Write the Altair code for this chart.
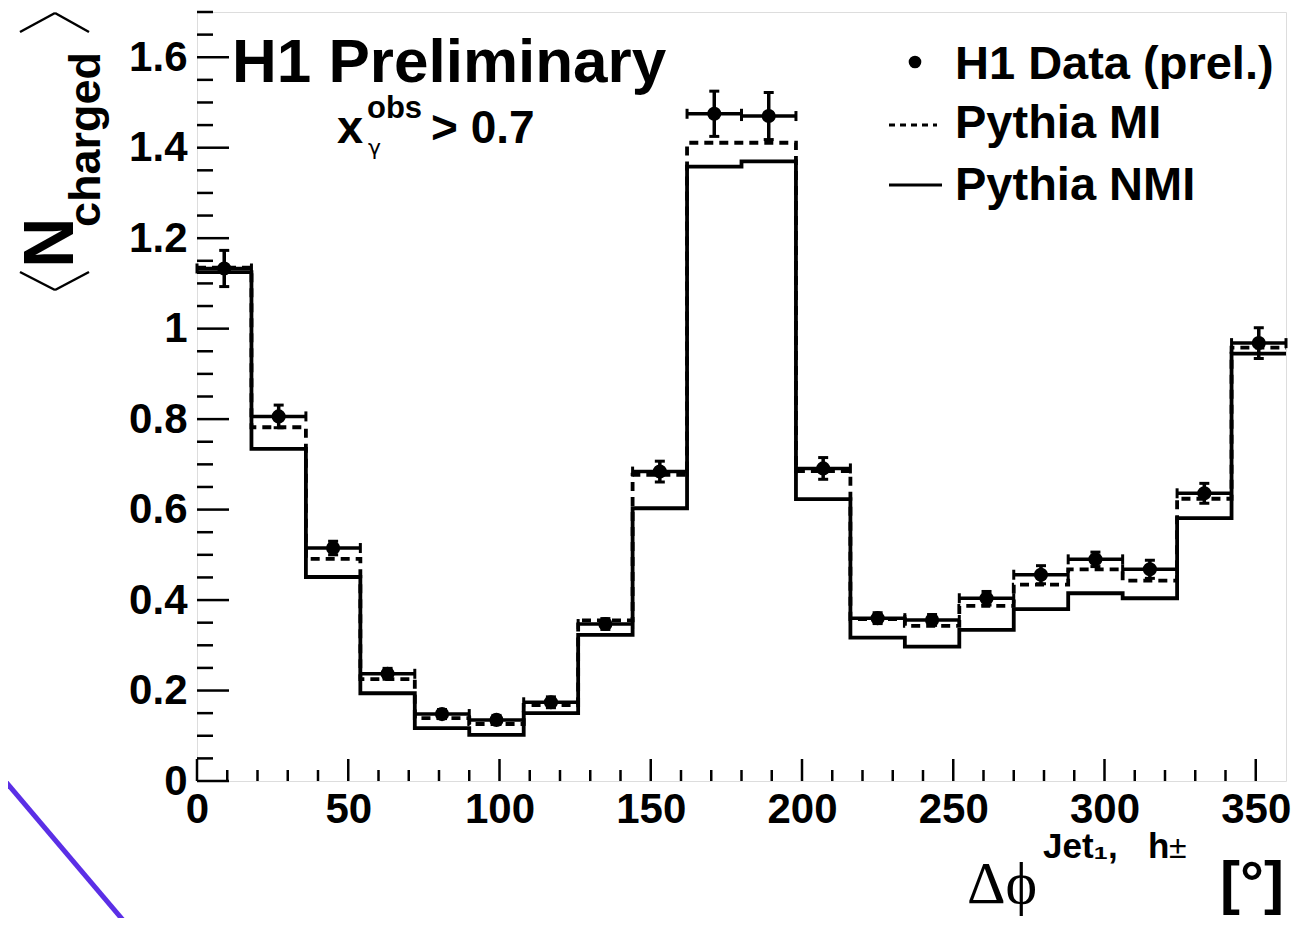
import altair as alt
import pandas as pd

# ---------------- data ----------------
bin_lo = [0, 18, 36, 54, 72, 90, 108, 126, 144, 162, 180, 198, 216, 234, 252, 270, 288, 306, 324, 342]
bin_width = 18
x_end = 360

data_vals = [1.133, 0.806, 0.515, 0.237, 0.148, 0.135, 0.174, 0.347, 0.684, 1.475,
             1.470, 0.691, 0.360, 0.356, 0.404, 0.456, 0.490, 0.468, 0.636, 0.968]
data_err = [0.040, 0.025, 0.015, 0.012, 0.010, 0.010, 0.012, 0.012, 0.023, 0.050,
            0.052, 0.024, 0.012, 0.012, 0.015, 0.020, 0.016, 0.020, 0.022, 0.034]
mi_vals = [1.135, 0.782, 0.491, 0.225, 0.139, 0.126, 0.168, 0.355, 0.677, 1.411,
           1.411, 0.685, 0.358, 0.343, 0.387, 0.434, 0.468, 0.443, 0.624, 0.958]
nmi_vals = [1.125, 0.734, 0.451, 0.194, 0.117, 0.102, 0.150, 0.323, 0.603, 1.358,
            1.370, 0.623, 0.317, 0.297, 0.334, 0.380, 0.415, 0.404, 0.581, 0.945]

x_major = [0, 50, 100, 150, 200, 250, 300, 350]
x_minor = [v for v in range(10, 360, 10) if v % 50 != 0]
y_major = [0, 0.2, 0.4, 0.6, 0.8, 1, 1.2, 1.4, 1.6]
y_minor = [round(0.05 * i, 2) for i in range(1, 35) if i % 4 != 0]

# ---------------- tables ----------------
pts = pd.DataFrame({
    "lo": bin_lo,
    "hi": [b + bin_width for b in bin_lo],
    "c": [b + bin_width / 2 for b in bin_lo],
    "v": data_vals,
    "elo": [v - e for v, e in zip(data_vals, data_err)],
    "ehi": [v + e for v, e in zip(data_vals, data_err)],
})
mi_step = pd.DataFrame({"x": bin_lo + [x_end], "y": mi_vals + [mi_vals[-1]]})
nmi_step = pd.DataFrame({"x": bin_lo + [x_end], "y": nmi_vals + [nmi_vals[-1]]})
one = pd.DataFrame({"a": [0]})

W, H = 1089, 769
FONT = "Liberation Sans"

xscale = alt.Scale(domain=[0, 360], nice=False, zero=False)
yscale = alt.Scale(domain=[0, 1.7], nice=False, zero=False)
xaxis = alt.Axis(values=x_major, format="d", ticks=False, tickSize=0, domain=False, grid=False,
                 labelFont=FONT, labelFontWeight="bold", labelFontSize=42, labelColor="black",
                 labelPadding=8, labelFlush=False, labelOverlap=False)
yaxis = alt.Axis(values=y_major, format="~g", ticks=False, tickSize=0, domain=False, grid=False,
                 labelFont=FONT, labelFontWeight="bold", labelFontSize=42, labelColor="black",
                 labelPadding=10, labelOverlap=False)


def X(f):
    return alt.X(f, type="quantitative", scale=xscale, axis=xaxis, title="")


def Y(f):
    return alt.Y(f, type="quantitative", scale=yscale, axis=yaxis, title="")


nmi = alt.Chart(nmi_step).mark_line(interpolate="step-after", color="black", strokeWidth=3.8).encode(
    x=X("x"), y=Y("y"))
mi = alt.Chart(mi_step).mark_line(interpolate="step-after", color="black", strokeWidth=3.8,
                                  strokeDash=[9, 6]).encode(x=X("x"), y=Y("y"))

herr = alt.Chart(pts).mark_rule(color="black", strokeWidth=3.5).encode(x=X("lo"), x2="hi", y=Y("v"))
verr = alt.Chart(pts).mark_rule(color="black", strokeWidth=3.5).encode(x=X("c"), y=Y("elo"), y2="ehi")
cap_lo = alt.Chart(pts).mark_tick(color="black", orient="horizontal", size=10, thickness=3, opacity=1).encode(
    x=X("c"), y=Y("elo"))
cap_hi = alt.Chart(pts).mark_tick(color="black", orient="horizontal", size=10, thickness=3, opacity=1).encode(
    x=X("c"), y=Y("ehi"))
capl = alt.Chart(pts).mark_tick(color="black", orient="vertical", size=10, thickness=3, opacity=1).encode(
    x=X("lo"), y=Y("v"))
capr = alt.Chart(pts).mark_tick(color="black", orient="vertical", size=10, thickness=3, opacity=1).encode(
    x=X("hi"), y=Y("v"))
dots = alt.Chart(pts).mark_circle(color="black", size=200, opacity=1).encode(x=X("c"), y=Y("v"))

# inward ticks
ytm = alt.Chart(pd.DataFrame({"t": y_major})).mark_rule(color="black", strokeWidth=2.5).encode(
    y=Y("t"), x=alt.value(0), x2=alt.value(32))
ytn = alt.Chart(pd.DataFrame({"t": y_minor})).mark_rule(color="black", strokeWidth=2.5).encode(
    y=Y("t"), x=alt.value(0), x2=alt.value(16))
xtm = alt.Chart(pd.DataFrame({"t": x_major})).mark_rule(color="black", strokeWidth=2.5).encode(
    x=X("t"), y=alt.value(H), y2=alt.value(H - 22))
xtn = alt.Chart(pd.DataFrame({"t": x_minor})).mark_rule(color="black", strokeWidth=2.5).encode(
    x=X("t"), y=alt.value(H), y2=alt.value(H - 11))


def txt(s, x, y, size, weight="bold", font=FONT, align="left", baseline="alphabetic", angle=0):
    kw = dict(text=s, fontSize=size, fontWeight=weight, font=font, align=align,
              baseline=baseline, color="black")
    if angle:
        kw["angle"] = angle
    return alt.Chart(one).mark_text(**kw).encode(x=alt.value(x), y=alt.value(y))


def seg(x1, y1, x2, y2, width=2.5, color="black"):
    return alt.Chart(one).mark_rule(color=color, strokeWidth=width).encode(
        x=alt.value(x1), y=alt.value(y1), x2=alt.value(x2), y2=alt.value(y2))


texts = [
    txt("H1 Preliminary", 35, 70, 62),
    txt("x", 140, 131, 47),
    txt("obs", 170, 106, 31),
    txt("γ", 171, 143, 22, weight="normal", font="DejaVu Sans"),
    txt("> 0.7", 234, 131, 46),
    # legend
    txt("H1 Data (prel.)", 758, 67, 47),
    txt("Pythia MI", 758, 126, 47),
    txt("Pythia NMI", 758, 188, 47),
    # y title
    txt("N", -124, 256, 70, angle=270),
    txt("charged", -97, 215, 45, angle=270),
    # x title
    txt("Δϕ", 770, 891, 60, weight="normal", font="Liberation Serif"),
    txt("Jet₁,", 846, 846, 35),
    txt("h", 951, 846, 35),
    txt("±", 972, 846, 32, weight="normal"),
    txt("[°]", 1087, 891, 60, align="right"),
]

# angle brackets of the y title
brackets = [
    seg(-177, 260, -142, 278), seg(-142, 278, -108, 260),
    seg(-177, 20, -142, 1), seg(-142, 1, -108, 20),
]

leg_dot = alt.Chart(one).mark_circle(color="black", size=160, opacity=1).encode(
    x=alt.value(718), y=alt.value(50))
leg_mi = alt.Chart(one).mark_rule(color="black", strokeWidth=3, strokeDash=[6, 5]).encode(
    x=alt.value(692), x2=alt.value(740), y=alt.value(113))
leg_nmi = alt.Chart(one).mark_rule(color="black", strokeWidth=3).encode(
    x=alt.value(692), x2=alt.value(745), y=alt.value(173))

purple = seg(-197, 763, -69, 914, width=5, color="#5b2fe6")

chart = alt.layer(
    nmi, mi, herr, verr, cap_lo, cap_hi, capl, capr, dots,
    ytm, ytn, xtm, xtn, leg_dot, leg_mi, leg_nmi, purple, *brackets, *texts
).properties(
    width=W, height=H,
    autosize=alt.AutoSizeParams(type="none"),
    padding={"left": 189, "top": 4, "right": 18, "bottom": 137},
).configure_view(
    stroke="black", strokeWidth=2.5
).configure(background="white")

chart.save("out.html", embed_options={"renderer": "svg", "actions": False})
